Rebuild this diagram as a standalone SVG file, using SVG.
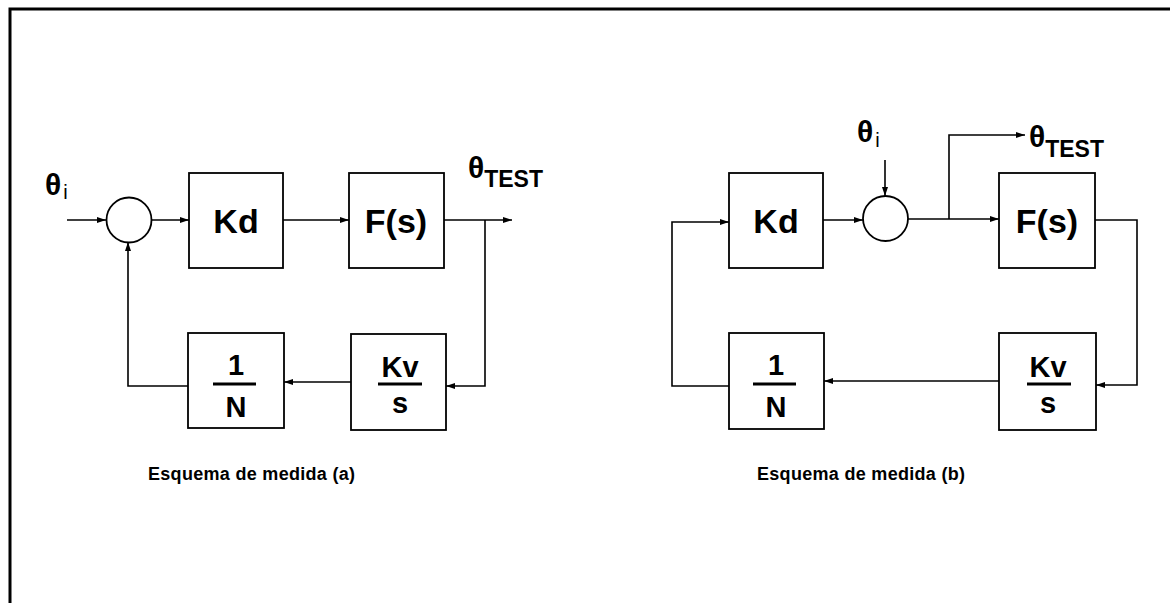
<svg xmlns="http://www.w3.org/2000/svg" width="1170" height="603" viewBox="0 0 1170 603">
<style>
.box{fill:#fff;stroke:#000;stroke-width:1.8}
.ln{fill:none;stroke:#000;stroke-width:1.6}
.t{font-family:"Liberation Sans",Arial,sans-serif;font-weight:bold;fill:#000}
.big{font-size:34px}
.frac{font-size:29px}
.th{font-size:30px}
.sub{font-size:23px}
.subi{font-size:20px;font-weight:normal}
.cap{font-size:18px;letter-spacing:0.3px}
</style>
<defs>
<marker id="ah" markerWidth="10" markerHeight="8" refX="9" refY="4" orient="auto" markerUnits="userSpaceOnUse">
<path d="M0,1 L9,4 L0,7 Z" fill="#000"/>
</marker>
</defs>
<rect width="1170" height="603" fill="#fff"/>
<g id="frame">
<path d="M10,603 L10,9 L1170,9" fill="none" stroke="#000" stroke-width="3"/>
</g>
<g id="connectors">
<path class="ln" d="M67,220 L106,220" marker-end="url(#ah)"/>
<path class="ln" d="M152,220 L189,220" marker-end="url(#ah)"/>
<path class="ln" d="M283,220 L349,220" marker-end="url(#ah)"/>
<path class="ln" d="M444,220 L512,220" marker-end="url(#ah)"/>
<path class="ln" d="M485,220 L485,386 L446,386" marker-end="url(#ah)"/>
<path class="ln" d="M351,382 L284,382" marker-end="url(#ah)"/>
<path class="ln" d="M188,386 L128,386 L128,242" marker-end="url(#ah)"/>
<path class="ln" d="M885,160 L885,196" marker-end="url(#ah)"/>
<path class="ln" d="M908,219 L999,219" marker-end="url(#ah)"/>
<path class="ln" d="M949,219 L949,135 L1025,135" marker-end="url(#ah)"/>
<path class="ln" d="M1095,220 L1137,220 L1137,385 L1096,385" marker-end="url(#ah)"/>
<path class="ln" d="M999,381 L824,381" marker-end="url(#ah)"/>
<path class="ln" d="M729,386 L672,386 L672,222 L729,222" marker-end="url(#ah)"/>
<path class="ln" d="M823,220 L863,220" marker-end="url(#ah)"/>
</g>
<g id="a-sum"><circle class="box" cx="129" cy="220" r="22.5"/></g>
<g id="a-kd"><rect class="box" x="189" y="173" width="94" height="95"/><text class="t big" x="236" y="233" text-anchor="middle">Kd</text></g>
<g id="a-fs"><rect class="box" x="349" y="173" width="95" height="95"/><text class="t big" x="396" y="233" text-anchor="middle">F(s)</text></g>
<g id="a-n"><rect class="box" x="188" y="333" width="96" height="95"/><text class="t frac" x="236" y="375" text-anchor="middle">1</text><line x1="213" y1="384" x2="256" y2="384" stroke="#000" stroke-width="3"/><text class="t frac" x="236" y="417" text-anchor="middle">N</text></g>
<g id="a-kv"><rect class="box" x="351" y="334" width="95" height="96"/><text class="t frac" x="400" y="377" text-anchor="middle">Kv</text><line x1="378" y1="384" x2="422" y2="384" stroke="#000" stroke-width="3"/><text class="t frac" x="400" y="413" text-anchor="middle">s</text></g>
<g id="a-labels">
<text class="t" x="45" y="195"><tspan class="th">θ</tspan><tspan class="subi" dx="2" dy="4">i</tspan></text>
<text class="t" x="468" y="178"><tspan class="th">θ</tspan><tspan class="sub" dy="9">TEST</tspan></text>
<text class="t cap" x="148" y="480">Esquema de medida (a)</text>
</g>
<g id="b-kd"><rect class="box" x="729" y="173" width="94" height="95"/><text class="t big" x="776" y="233" text-anchor="middle">Kd</text></g>
<g id="b-sum"><circle class="box" cx="885.5" cy="218.5" r="22.5"/></g>
<g id="b-fs"><rect class="box" x="999" y="173" width="96" height="95"/><text class="t big" x="1047" y="233" text-anchor="middle">F(s)</text></g>
<g id="b-n"><rect class="box" x="729" y="333" width="95" height="96"/><text class="t frac" x="776" y="375" text-anchor="middle">1</text><line x1="753" y1="384" x2="796" y2="384" stroke="#000" stroke-width="3"/><text class="t frac" x="776" y="417" text-anchor="middle">N</text></g>
<g id="b-kv"><rect class="box" x="999" y="333" width="97" height="97"/><text class="t frac" x="1048" y="377" text-anchor="middle">Kv</text><line x1="1027" y1="384" x2="1071" y2="384" stroke="#000" stroke-width="3"/><text class="t frac" x="1048" y="413" text-anchor="middle">s</text></g>
<g id="b-labels">
<text class="t" x="857" y="142"><tspan class="th">θ</tspan><tspan class="subi" dx="2" dy="5">i</tspan></text>
<text class="t" x="1029" y="147"><tspan class="th">θ</tspan><tspan class="sub" dy="10">TEST</tspan></text>
<text class="t cap" x="757" y="480">Esquema de medida (b)</text>
</g>
</svg>
